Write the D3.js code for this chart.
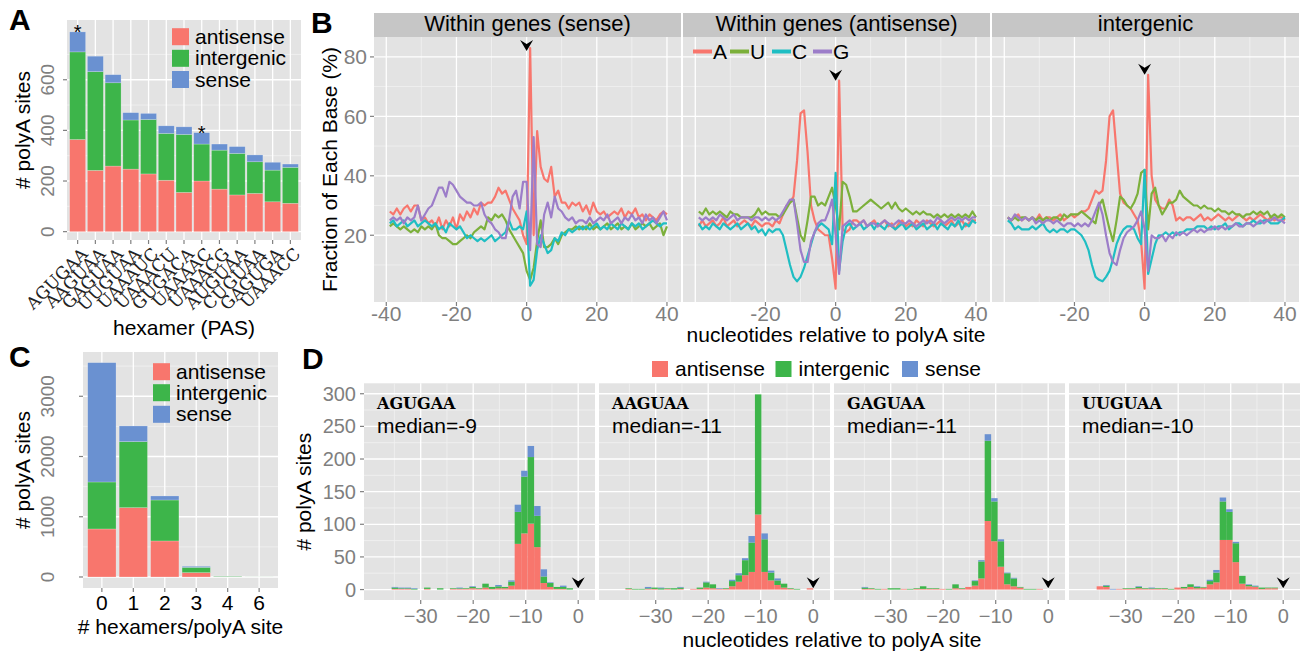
<!DOCTYPE html>
<html><head><meta charset="utf-8">
<script src="https://cdn.jsdelivr.net/npm/d3@7"></script>
<style>
body{margin:0;background:#fff}
text{font-family:"Liberation Sans",Arial,Helvetica,sans-serif}
</style></head>
<body><svg id="c" width="1303" height="657"></svg>
<script>
// ---------------- DATA ----------------
const classes = ["antisense","intergenic","sense"];
const classColors = ["#F8766D","#3DB54A","#6A91D1"];

// Panel A
const hexamers = ["AGUGAA","AAGUAA","GAGUAA","UUGUAA","UAAAUC","UAAACU","GUGACA","UAAAAC","UAAACG","AUGUAA","CUGUAA","GAGUGA","UAAACC"];
const hexAntisense  = [364,242,259,247,228,203,155,200,168,145,151,118,112];
const hexIntergenic = [346,390,329,194,215,185,229,146,154,164,125,125,142];
const hexSense      = [79,61,32,29,24,30,30,45,24,27,27,31,13];
const hexStarred = ["AGUGAA","UAAAAC"];
const aTicks = [0,200,400,600];

// Panel C
const nHexCats = ["0","1","2","3","4","6"];
const nAntisense  = [797,1151,598,72,3,0];
const nIntergenic = [780,1096,680,88,10,1];
const nSense      = [1981,260,67,17,1,0];
const cTicks = [0,1000,2000,3000];

// Panel B : positions -39..40
const bPositions = d3.range(-39, 41);
const facetNames = ["Within genes (sense)","Within genes (antisense)","intergenic"];
const baseNames = ["A","U","C","G"];
const baseColors = ["#F8766D","#7CB03B","#1FBEC3","#9C7DC9"];
const senseA = [28,27,29,27,29,30,28,30,30,25, 26,24,25,23,26,22,25,23,26,22, 27,25,28,26,29,27,31,30,31,31, 33,36,34,35,32,29,27,25,20,17, 83,20,55,43,39,38,43,33,35,31, 31,29,31,30,31,28,30,27,31,28, 27,28,26,27,28,27,29,26,28,27, 29,26,27,25,27,26,25,27,28,27];
const senseU = [23,24,23,22,23,22,21,22,21,23, 22,23,22,24,20,19,19,18,17,17, 18,19,20,19,21,22,23,22,26,25, 27,26,27,25,22,20,18,16,14,8, 5,9,18,25,16,16,17,19,17,20, 21,22,22,23,22,23,22,24,22,23, 22,23,24,22,23,24,22,23,22,24, 22,23,24,23,24,22,23,24,20,23];
const senseC = [24,25,23,24,25,23,24,25,23,24, 25,24,23,24,22,23,21,24,23,22, 23,21,19,20,19,18,19,18,19,20, 18,19,20,21,25,22,22,23,22,28, 3,5,15,20,17,14,15,19,18,21, 20,22,21,22,23,22,23,22,23,24, 22,23,22,24,23,22,24,23,22,24, 23,24,22,23,24,25,24,23,24,24];
const senseG = [25,26,25,26,24,26,25,26,30,25, 27,29,30,33,36,36,33,38,37,35, 33,32,31,31,30,30,31,27,25,24, 22,21,19,19,25,33,35,29,38,38, 15,53,17,16,27,31,26,33,29,28, 26,25,26,24,25,25,24,26,24,25, 26,25,27,24,25,26,24,26,25,27, 25,26,24,27,25,26,24,26,28,25];
const antiA = [23,25,23,24,25,23,24,26,23,24, 25,23,24,25,24,23,25,24,23,24, 24,23,25,24,27,30,31,33,45,61, 62,48,30,25,22,21,20,20,12,2, 72,22,21,22,25,25,24,25,23,24, 25,23,24,25,23,24,22,24,25,23, 24,23,25,24,23,25,24,23,24,25, 23,24,25,23,24,25,23,24,25,25];
const antiU = [28,27,29,27,28,27,28,27,26,28, 27,27,26,26,26,26,27,29,27,28, 27,27,27,26,27,29,31,32,26,20, 18,25,33,33,30,31,30,33,36,30, 22,38,37,33,28,28,29,30,31,32, 31,30,29,30,31,29,31,29,28,29, 28,27,28,27,28,27,27,26,27,26, 27,26,27,26,27,26,27,26,28,26];
const antiC = [24,22,23,22,24,23,22,24,23,22, 23,24,22,23,24,22,23,21,22,20, 22,21,22,22,20,15,10,6,4.5,6, 9,13,17,21,23,24,23,22,17,41, 8,18,23,24,22,23,24,22,23,24, 22,24,23,22,24,23,22,23,24,22, 23,24,22,23,24,22,23,24,22,24, 23,22,24,23,25,22,24,23,25,24];
const antiG = [26,25,26,25,26,25,27,26,25,26, 27,25,26,26,26,25,26,26,25,26, 25,26,25,26,28,30,32,32,24,15, 11,11,18,21,24,25,25,28,32,20, 7,23,24,25,24,23,24,25,23,24, 24,23,24,25,24,23,24,25,24,24, 25,24,23,24,25,24,25,24,26,25, 24,25,26,25,26,25,26,25,26,26];
const interA = [26,25,26,27,25,26,25,26,25,27, 25,26,26,25,26,27,25,26,27,26, 27,28,28,29,32,35,34,35,45,60, 62,48,34,31,30,29,27,25,18,2, 74,40,32,30,29,29,32,30,25,26, 25,26,26,25,26,27,25,26,25,26, 27,26,25,26,25,26,27,26,25,26, 25,26,27,26,25,26,25,26,26,25];
const interU = [26,25,26,25,26,26,25,26,25,26, 25,26,25,26,26,25,27,26,27,27, 27,28,27,26,25,24,30,32,27,22, 18,25,33,32,30,29,31,34,41,42, 22,34,36,30,27,29,31,31,32,35, 33,32,31,30,30,29,30,29,29,28, 29,28,28,27,28,27,27,26,27,27, 28,27,28,27,28,26,27,26,27,26];
const interC = [25,24,22,23,22,22,22,23,22,23, 24,22,21,22,21,22,22,21,22,22, 21,20,18,15,10,6,5,4.5,6,8, 12,17,20,22,23,23,22,19,17,42, 7,12,17,20,20,21,20,21,20,21, 21,22,22,22,23,23,23,22,23,22, 23,23,24,22,23,24,24,23,24,24, 25,24,24,25,25,24,24,24,25,26];
const interG = [26,25,27,26,25,26,25,26,24,25, 24,25,25,24,25,24,23,24,24,23, 24,23,24,23,25,28,31,27,20,14, 11,10,15,19,21,22,23,25,28,22, 8,20,19,19,20,18,20,19,21,20, 21,20,21,22,21,22,21,22,22,23, 22,23,22,23,23,24,23,23,24,24, 23,24,25,24,25,25,26,25,25,24];
const facetSeries = [[senseA,senseU,senseC,senseG],[antiA,antiU,antiC,antiG],[interA,interU,interC,interG]];
const facetArrowY = [82, 72, 74];
const bTicksY = [20,40,60,80];

// Panel D : histograms, 30 bins of width 37/30
const dHexamers = ["AGUGAA","AAGUAA","GAGUAA","UUGUAA"];
const dMedians = [-9,-11,-11,-10];
const dBinStart = [-38,-37,-38,-38];
const dBinWidth = 37/30;
const dAntisense = [
 [0,0,1,1,1,0,0,1,0,0,0,1,1,1,2,1,3,1,2,2,6,70,86,101,65,10,4,1,1,0],
 [0,1,0,0,1,1,0,1,0,1,0,1,1,3,2,1,1,5,12,22,27,115,27,14,7,3,1,0,0,2],
 [0,0,1,1,0,1,0,0,1,0,1,1,1,1,1,0,2,1,4,6,17,105,74,35,8,5,3,0,0,1],
 [0,0,5,4,0,1,1,1,2,1,1,1,1,0,3,2,4,2,3,8,11,76,76,42,9,5,4,1,2,2]];
const dIntergenic = [
 [0,0,2,1,1,1,0,2,0,2,0,1,1,1,2,1,6,3,3,2,6,49,87,102,48,10,6,3,3,2],
 [0,1,1,1,1,2,2,1,2,2,0,0,2,8,6,0,1,8,10,23,45,184,50,12,7,6,1,1,0,0],
 [0,0,2,1,1,0,2,2,0,1,1,4,1,1,0,1,6,1,0,7,26,123,61,39,17,12,1,1,1,0],
 [0,0,0,2,0,0,1,1,2,1,1,1,1,1,0,2,4,2,1,5,15,59,43,29,12,2,1,2,1,1]];
const dSense = [
 [0,0,1,1,1,1,0,0,0,0,0,0,1,0,1,0,0,0,2,0,2,11,9,17,15,11,1,0,2,0],
 [0,0,0,0,2,0,1,0,0,1,0,0,0,1,0,1,0,2,3,3,10,0,9,3,3,0,0,0,0,0],
 [0,0,1,0,0,0,0,0,0,0,0,0,0,0,0,0,0,0,0,1,2,10,5,3,1,1,0,0,0,0],
 [0,0,0,1,1,0,0,0,1,0,1,0,0,0,0,0,0,1,0,2,4,6,4,2,0,1,1,0,0,0]];
const dTicksX = [-30,-20,-10,0];
const dTicksY = [0,50,100,150,200,250,300];

// ---------------- STYLE ----------------
const PANEL="#E3E3E3", STRIP="#C6C6C6", MINOR="#F1F1F1", TICKC="#808080", TXTG="#7F7F7F";
const SERIF='"DejaVu Serif","Liberation Serif",serif';
const svg = d3.select("#c");
const stack = d3.stack().keys(classes);
const colorOf = k => classColors[classes.indexOf(k)];

function hline(g, x1, x2, y, col, w){ g.append("line").attr("x1",x1).attr("x2",x2).attr("y1",y).attr("y2",y).attr("stroke",col).attr("stroke-width",w); }
function vline(g, x, y1, y2, col, w){ g.append("line").attr("x1",x).attr("x2",x).attr("y1",y1).attr("y2",y2).attr("stroke",col).attr("stroke-width",w); }
function txt(g, x, y, s, size, opts={}){
  const t = g.append("text").attr("x",x).attr("y",y).text(s).attr("font-size",size)
    .attr("fill",opts.fill||"#000").attr("text-anchor",opts.anchor||"start");
  if(opts.weight) t.style("font-weight",opts.weight);
  if(opts.family) t.style("font-family",opts.family);
  if(opts.rotate!==undefined) t.attr("transform",`rotate(${opts.rotate},${x},${y})`);
  return t;
}
function arrowHead(g, x, y){
  g.append("path").attr("d","M0,0 L-6.5,-11 L0,-7 L6.5,-11 Z").attr("fill","#000")
   .attr("transform",`translate(${x},${y})`);
}
function legendBoxes(g, x, ys, size, fs){
  classes.forEach((c,i)=>{
    g.append("rect").attr("x",x).attr("y",ys[i]-size/2).attr("width",size).attr("height",size).attr("fill",classColors[i]);
    txt(g, x+size+6, ys[i]+7, c, fs);
  });
}

// ---------------- PANEL A ----------------
(function(){
  const g = svg.append("g");
  const L=67,R=301,T=20,B=240;
  const x = d3.scaleLinear().domain([-0.6, hexamers.length-0.4]).range([L,R]);
  const y = d3.scaleLinear().domain([-33,836]).range([B,T]);
  g.append("rect").attr("x",L).attr("y",T).attr("width",R-L).attr("height",B-T).attr("fill",PANEL);
  [100,300,500,700].forEach(v=>hline(g,L,R,y(v),MINOR,0.8));
  aTicks.forEach(v=>hline(g,L,R,y(v),"#fff",1.3));
  hexamers.forEach((h,i)=>vline(g,x(i),T,B,"#fff",1.3));
  const rows = hexamers.map((h,i)=>({idx:i, antisense:hexAntisense[i], intergenic:hexIntergenic[i], sense:hexSense[i]}));
  g.selectAll("g.ser").data(stack(rows)).join("g").attr("fill",d=>colorOf(d.key))
   .selectAll("rect").data(d=>d).join("rect")
   .attr("x",d=>x(d.data.idx-0.45)).attr("width",x(0.45)-x(-0.45))
   .attr("y",d=>y(d[1])).attr("height",d=>y(d[0])-y(d[1]))
   .attr("stroke","rgba(255,255,255,0.35)").attr("stroke-width",0.6);
  rows.forEach((r,i)=>{ if(hexStarred.includes(hexamers[i])) txt(g,x(i),y(r.antisense+r.intergenic+r.sense)+7,"*",20,{anchor:"middle"}); });
  aTicks.forEach(v=>{ hline(g,L-4,L,y(v),TICKC,1.2); txt(g,54,y(v),String(v),19,{fill:TXTG,anchor:"middle",rotate:-90}); });
  hexamers.forEach((h,i)=>{
    vline(g,x(i),B,B+4,TICKC,1.2);
    const ax=x(i)+11, ay=B+15;
    txt(g,ax,ay,h,17,{anchor:"end",rotate:-45,family:SERIF,fill:"#222"});
  });
  txt(g,30,(T+B)/2,"# polyA sites",21,{anchor:"middle",rotate:-90});
  txt(g,(L+R)/2,335,"hexamer (PAS)",21,{anchor:"middle"});
  txt(g,9,30,"A",30,{weight:"bold"});
  legendBoxes(g,172,[36.7,58.3,79.5],17,21);
})();

// ---------------- PANEL C ----------------
(function(){
  const g = svg.append("g");
  const L=83,R=278,T=352,B=588;
  const x = d3.scaleLinear().domain([-0.6, nHexCats.length-0.4]).range([L,R]);
  const y = d3.scaleLinear().domain([-183,3735]).range([B,T]);
  g.append("rect").attr("x",L).attr("y",T).attr("width",R-L).attr("height",B-T).attr("fill",PANEL);
  [500,1500,2500,3500].forEach(v=>hline(g,L,R,y(v),MINOR,0.8));
  cTicks.forEach(v=>hline(g,L,R,y(v),"#fff",1.3));
  nHexCats.forEach((h,i)=>vline(g,x(i),T,B,"#fff",1.3));
  const rows = nHexCats.map((h,i)=>({idx:i, antisense:nAntisense[i], intergenic:nIntergenic[i], sense:nSense[i]}));
  g.selectAll("g.ser").data(stack(rows)).join("g").attr("fill",d=>colorOf(d.key))
   .selectAll("rect").data(d=>d).join("rect")
   .attr("x",d=>x(d.data.idx-0.45)).attr("width",x(0.45)-x(-0.45))
   .attr("y",d=>y(d[1])).attr("height",d=>y(d[0])-y(d[1]))
   .attr("stroke","rgba(255,255,255,0.35)").attr("stroke-width",0.6);
  cTicks.forEach(v=>{ hline(g,L-4,L,y(v),TICKC,1.2); txt(g,54,y(v),String(v),19,{fill:TXTG,anchor:"middle",rotate:-90}); });
  nHexCats.forEach((h,i)=>{ vline(g,x(i),B,B+4,TICKC,1.2); txt(g,x(i),610,h,21,{anchor:"middle"}); });
  txt(g,30,(T+B)/2,"# polyA sites",21,{anchor:"middle",rotate:-90});
  txt(g,(L+R)/2,634,"# hexamers/polyA site",21,{anchor:"middle"});
  txt(g,9,367,"C",30,{weight:"bold"});
  legendBoxes(g,153,[371.7,392.7,414.3],17,21);
})();

// ---------------- PANEL B ----------------
(function(){
  const lefts=[374,683,992], W=307, T=37, B=302;
  const x = d3.scaleLinear().domain([-43.5,44]).range([0,W]);
  const y = d3.scaleLinear().domain([-2.46,86.7]).range([B,T]);
  facetNames.forEach((name,f)=>{
    const g = svg.append("g").attr("transform",`translate(${lefts[f]},0)`);
    g.append("rect").attr("x",0).attr("y",T).attr("width",W).attr("height",B-T).attr("fill",PANEL);
    [10,30,50,70].forEach(v=>hline(g,0,W,y(v),MINOR,0.8));
    [-30,-10,10,30].forEach(v=>vline(g,x(v),T,B,MINOR,0.8));
    bTicksY.forEach(v=>hline(g,0,W,y(v),"#fff",1.3));
    [-40,-20,0,20,40].forEach(v=>vline(g,x(v),T,B,"#fff",1.3));
    g.append("rect").attr("x",0).attr("y",13).attr("width",W).attr("height",T-13).attr("fill",STRIP);
    txt(g,W/2,31,name,22,{anchor:"middle"});
    const line = d3.line().x((d,i)=>x(bPositions[i])).y(d=>y(d));
    facetSeries[f].forEach((s,k)=>{
      g.append("path").datum(s).attr("d",line).attr("fill","none")
       .attr("stroke",baseColors[k]).attr("stroke-width",2.2).attr("stroke-linejoin","round");
    });
    arrowHead(g,x(0),y(facetArrowY[f]));
    const xt = f===0 ? [-40,-20,0,20,40] : [-20,0,20,40];
    xt.forEach(v=>{ vline(g,x(v),B,B+4,TICKC,1.2); txt(g,x(v),321,String(v),21,{fill:TXTG,anchor:"middle"}); });
    if(f===0){
      bTicksY.forEach(v=>{ hline(g,-4,0,y(v),TICKC,1.2); txt(g,-7,y(v)+7.5,String(v),21,{fill:TXTG,anchor:"end"}); });
    }
    if(f===1){
      const lx=[10,47,89,130];
      baseNames.forEach((b,k)=>{
        hline(g,lx[k],lx[k]+19,51.5,baseColors[k],4);
        txt(g,lx[k]+20,59,b,21);
      });
    }
  });
  txt(svg,337,(T+B)/2,"Fraction of Each Base (%)",21,{anchor:"middle",rotate:-90});
  txt(svg,836,342,"nucleotides relative to polyA site",21,{anchor:"middle"});
  txt(svg,311,33,"B",30,{weight:"bold"});
})();

// ---------------- PANEL D ----------------
(function(){
  const lefts=[364,599,834,1069], W=231, T=383.3, B=600;
  const x = d3.scaleLinear().domain([-40.8,3.2]).range([0,W]);
  const y = d3.scaleLinear().domain([-16,316]).range([B,T]);
  dHexamers.forEach((hx,p)=>{
    const g = svg.append("g").attr("transform",`translate(${lefts[p]},0)`);
    g.append("rect").attr("x",0).attr("y",T).attr("width",W).attr("height",B-T).attr("fill",PANEL);
    [25,75,125,175,225,275].forEach(v=>hline(g,0,W,y(v),MINOR,0.8));
    [-35,-25,-15,-5].forEach(v=>vline(g,x(v),T,B,MINOR,0.8));
    dTicksY.forEach(v=>hline(g,0,W,y(v),"#fff",1.3));
    dTicksX.forEach(v=>vline(g,x(v),T,B,"#fff",1.3));
    const rows = dAntisense[p].map((a,k)=>({x0:dBinStart[p]+k*dBinWidth, x1:dBinStart[p]+(k+1)*dBinWidth,
      antisense:a, intergenic:dIntergenic[p][k], sense:dSense[p][k]}));
    g.selectAll("g.ser").data(stack(rows)).join("g").attr("fill",d=>colorOf(d.key))
     .selectAll("rect").data(d=>d.filter(e=>e[1]>e[0])).join("rect")
     .attr("x",d=>x(d.data.x0)).attr("width",d=>x(d.data.x1)-x(d.data.x0))
     .attr("y",d=>y(d[1])).attr("height",d=>y(d[0])-y(d[1]));
    arrowHead(g,x(0),y(2));
    txt(g,13,408.5,hx,16,{weight:"bold",family:SERIF});
    txt(g,13,433,"median="+dMedians[p],21);
    dTicksX.forEach(v=>{ vline(g,x(v),B,B+4,TICKC,1.2); txt(g,x(v),623,(v<0?"\u2212":"")+Math.abs(v),20,{fill:TXTG,anchor:"middle"}); });
    if(p===0){
      dTicksY.forEach(v=>{ hline(g,-4,0,y(v),TICKC,1.2); txt(g,-8,y(v)+7,String(v),20,{fill:TXTG,anchor:"end"}); });
    }
  });
  txt(svg,311,(T+B)/2,"# polyA sites",21,{anchor:"middle",rotate:-90});
  txt(svg,832,647,"nucleotides relative to polyA site",21,{anchor:"middle"});
  txt(svg,302,369,"D",30,{weight:"bold"});
  const lg = svg.append("g");
  const kx=[652,775.5,902];
  classes.forEach((c,i)=>{
    lg.append("rect").attr("x",kx[i]).attr("y",361).attr("width",16).attr("height",16).attr("fill",classColors[i]);
    txt(lg,kx[i]+23,376,c,21);
  });
})();
</script>
</body></html>
